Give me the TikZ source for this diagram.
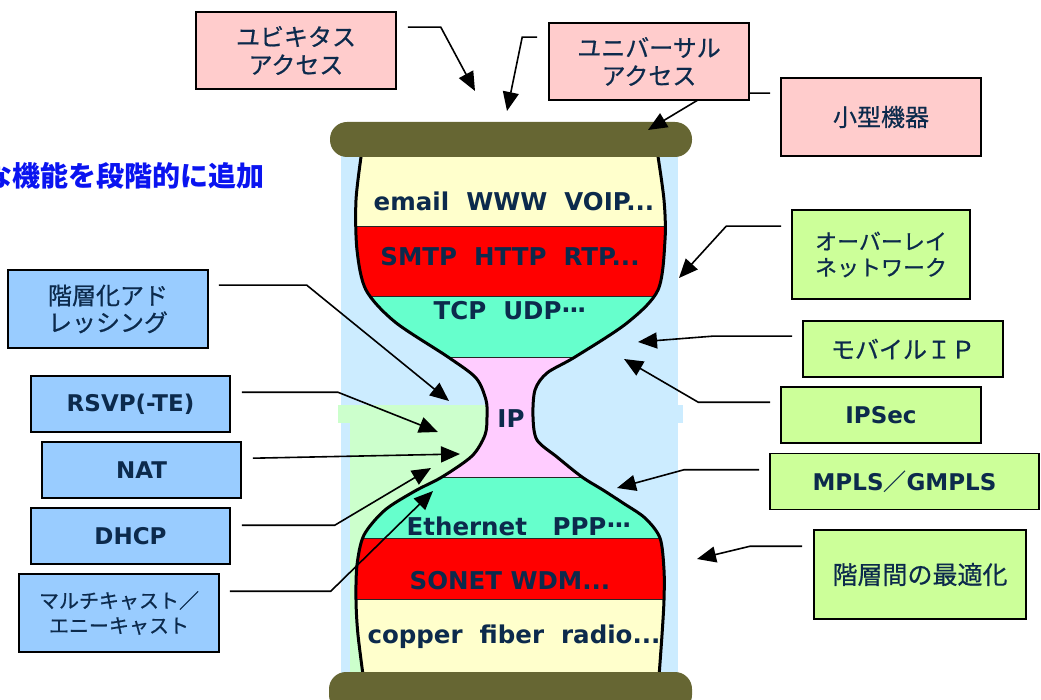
\documentclass[tikz,border=0pt]{standalone}
\usepackage{fontspec}
\setmainfont{DejaVu Sans}
\newfontfamily\jpf{Noto Sans CJK JP}[FakeBold=0.6]
\newfontfamily\jpt{Noto Sans CJK JP}
\usetikzlibrary{arrows.meta,calc}
\pgfdeclarelayer{back}
\pgfdeclarelayer{mid}
\pgfsetlayers{back,mid,main}
\definecolor{navy}{HTML}{0C2A4C}
\definecolor{bgblue}{HTML}{CCECFF}
\definecolor{bggreen}{HTML}{CCFFCC}
\definecolor{lyellow}{HTML}{FFFFCC}
\definecolor{aqua}{HTML}{66FFCC}
\definecolor{lpink}{HTML}{FFCCFF}
\definecolor{olive}{HTML}{666633}
\definecolor{pinkbox}{HTML}{FFCCCC}
\definecolor{greenbox}{HTML}{CCFF99}
\definecolor{bluebox}{HTML}{99CCFF}
\definecolor{titleblue}{HTML}{0A14F0}
\newcommand{\middots}{\raisebox{0.3em}{.\kern-1.5pt.\kern-1.5pt.}}
\tikzset{
  box/.style={draw=black, line width=1.6pt, inner sep=0pt, align=center, text=navy},
  pbox/.style={box, fill=pinkbox},
  gbox/.style={box, fill=greenbox},
  bbox/.style={box, fill=bluebox},
  jp/.style 2 args={font=\jpf\fontsize{#1}{#2}\selectfont},
  lat/.style={font=\bfseries\fontsize{23}{27}\selectfont},
  layer/.style={text=navy, font=\bfseries\fontsize{24.5}{28}\selectfont, anchor=base},
  arr/.style={draw=black, line width=1.6pt, -{Triangle[length=19pt,width=16pt]}},
  bar/.style={fill=olive, rounded corners=17pt},
}
\def\hgpath{plot[smooth,tension=0.5] coordinates {(362,150) (356,200) (357,250) (366,290) (395,322) (448,357) (476,378) (486,400) (487,417) (485,435) (472,456) (442,477) (415,491) (385,510) (364,535) (357,565) (356,600) (358,635) (365,690)} -- plot[smooth,tension=0.5] coordinates {(658,690) (662,635) (664,600) (664,570) (660,538) (645,518) (623,503) (603,490) (582,477) (557,457) (537,440) (533,417) (535,390) (547,373) (575,357) (627,323) (658,290) (665,240) (664,200) (657,150)} -- cycle}
\begin{document}
\begin{tikzpicture}[x=1pt,y=-1pt]
\useasboundingbox (0,0) rectangle (1041,700);
\begin{pgfonlayer}{back}
% background
\fill[bgblue] (341,150) rectangle (678,690);
\fill[bgblue] (510,405) rectangle (683,423);
\fill[bggreen] (338,405) rectangle (510,423);
\fill[bggreen] (350,423) rectangle (510,690);
% hourglass layers
\begin{scope}
\path[clip] \hgpath;
\fill[lyellow] (300,140) rectangle (720,226);
\fill[red] (300,226) rectangle (720,296);
\fill[aqua] (300,296) rectangle (720,357);
\fill[lpink] (300,357) rectangle (720,477);
\fill[aqua] (300,477) rectangle (720,538);
\fill[red] (300,538) rectangle (720,599);
\fill[lyellow] (300,599) rectangle (720,700);
\foreach \yy in {226,296,357,477,538,599} \draw[line width=0.9pt, black!85] (300,\yy) -- (720,\yy);
\end{scope}
\draw[line width=3pt] \hgpath;
% bars
\fill[bar] (330,122) rectangle (692,157);
\fill[bar] (329,672) rectangle (692,712);
\end{pgfonlayer}
% layer texts
\node[layer] (l1) at (514,211) {email\ \ WWW\ \ VOIP...};
\node[layer] (l2) at (510,266) {SMTP\ \ HTTP\ \ RTP...};
\node[layer] (l3) at (510,320) {TCP\ \ UDP\middots};
\node[layer] (l4) at (511,427) {IP};
\node[layer] (l5) at (519,535) {Ethernet\ \ \ PPP\middots};
\node[layer] (l6) at (510,589) {SONET WDM...};
\node[layer] (l7) at (514,643) {copper\ \ fiber\ \ radio...};
% title
\node[anchor=east, text=titleblue, font=\jpt\bfseries\fontsize{28}{30}\selectfont] (title) at (268,176) {な機能を段階的に追加};
% tips
\coordinate (tA) at (475,91);
\coordinate (tB) at (507,111);
\coordinate (tC) at (648,130);
\coordinate (tD) at (679,278);
\coordinate (tE) at (638,342);
\coordinate (tF) at (624,359);
\coordinate (tG) at (617,488);
\coordinate (tH) at (697,559);
\coordinate (tI) at (449,401);
\coordinate (tJ) at (438,432);
\coordinate (tK) at (460,454);
\coordinate (tL) at (431,468);
\coordinate (tM) at (433,491);
% boxes
\node[pbox, jp={24}{28}, minimum width=200pt, minimum height=77pt] (ubi) at (296,50.5) {ユビキタス\\アクセス};
\node[pbox, jp={24}{28}, minimum width=200pt, minimum height=77pt] (uni) at (649,61.5) {ユニバーサル\\アクセス};
\node[pbox, jp={24}{28}, minimum width=200pt, minimum height=78pt] (small) at (881,117) {小型機器};
\node[gbox, jp={22}{26}, minimum width=178pt, minimum height=89pt] (ov) at (881,254.5) {オーバーレイ\\ネットワーク};
\node[gbox, jp={24}{28}, minimum width=200pt, minimum height=56pt] (mob) at (903,349) {モバイルＩＰ};
\node[gbox, lat, minimum width=200pt, minimum height=56pt] (ipsec) at (881,415) {IPSec};
\node[gbox, lat, minimum width=269pt, minimum height=56pt] (mpls) at (904.5,481.5) {MPLS{\jpt ／}GMPLS};
\node[gbox, jp={25}{29}, minimum width=212pt, minimum height=89pt] (opt) at (920,574.5) {階層間の最適化};
\node[bbox, jp={24}{27}, minimum width=200pt, minimum height=78pt] (hier) at (108,309) {階層化アド\\レッシング};
\node[bbox, lat, minimum width=199pt, minimum height=56pt] (rsvp) at (130.5,404) {RSVP(-TE)};
\node[bbox, lat, minimum width=199pt, minimum height=56pt] (nat) at (141.5,470) {NAT};
\node[bbox, lat, minimum width=199pt, minimum height=56pt] (dhcp) at (130.5,536) {DHCP};
\node[bbox, jp={20}{25}, minimum width=200pt, minimum height=78pt] (multi) at (119,613) {マルチキャスト／\\エニーキャスト};
% arrows (under the boxes)
\begin{pgfonlayer}{mid}
\draw[arr] ($(ubi.north east)+(11,16)$) -- ++(33,0) -- (tA);
\draw[arr] ($(uni.north west)+(-11,15)$) -- ++(-15,0) -- (tB);
\draw[arr] ($(small.north west)+(-10,16)$) -- ++(-61,0) -- (tC);
\draw[arr] ($(ov.north west)+(-10,17)$) -- ++(-55,0) -- (tD);
\draw[arr] ($(mob.north west)+(-10,16)$) -- ++(-80,0) -- (tE);
\draw[arr] ($(ipsec.north west)+(-10,16)$) -- ++(-72,0) -- (tF);
\draw[arr] ($(mpls.north west)+(-10,17)$) -- ++(-75,0) -- (tG);
\draw[arr] ($(opt.north west)+(-11,17)$) -- ++(-52,0) -- (tH);
\draw[arr] ($(hier.north east)+(10,16)$) -- ++(88,0) -- (tI);
\draw[arr] ($(rsvp.north east)+(11,17)$) -- ++(96,0) -- (tJ);
\draw[arr] ($(nat.north east)+(11,17)$) -- (tK);
\draw[arr] ($(dhcp.north east)+(11,18)$) -- ++(93,0) -- (tL);
\draw[arr] ($(multi.north east)+(10,18)$) -- ++(101,0) -- (tM);
\end{pgfonlayer}
\end{tikzpicture}
\end{document}
